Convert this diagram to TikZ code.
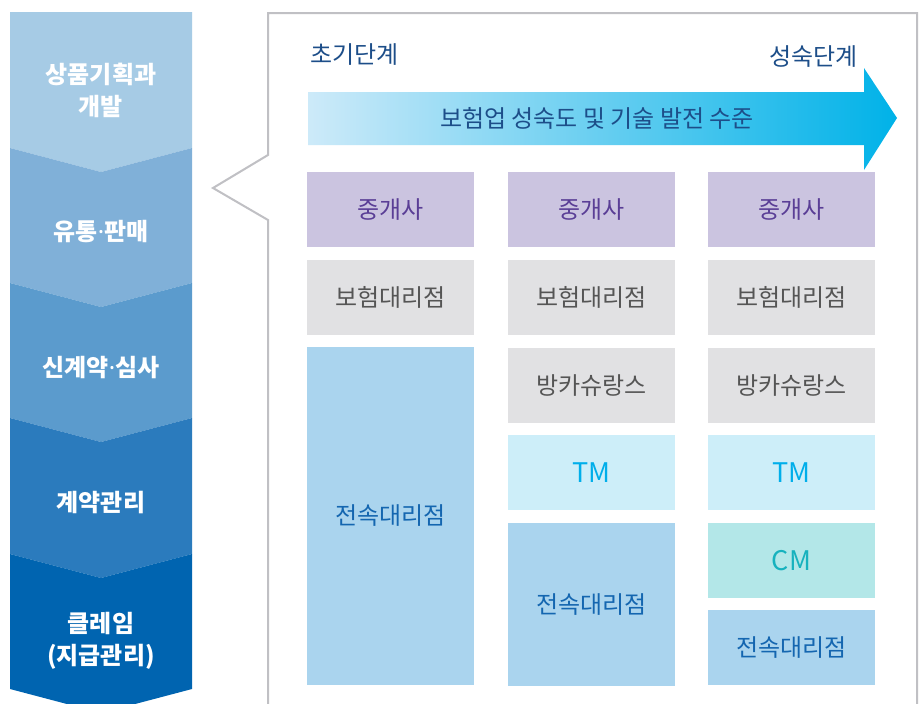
\documentclass[tikz,border=0pt]{standalone}
\usepackage{fontspec}
\setmainfont{Noto Sans CJK KR}
\newfontfamily\dotfont{Noto Sans}
\newcommand{\mdot}{{\dotfont\bfseries ·}}
\definecolor{segA}{HTML}{A6CBE5}
\definecolor{segB}{HTML}{80B0D8}
\definecolor{segC}{HTML}{5B9BCD}
\definecolor{segD}{HTML}{2B7BBD}
\definecolor{segE}{HTML}{0064B0}
\definecolor{frameC}{HTML}{C0C0C4}
\definecolor{navy}{HTML}{1D4E89}
\definecolor{arrL}{HTML}{CDEAF9}
\definecolor{arrR}{HTML}{00B2E8}
\definecolor{purF}{HTML}{CBC4E0}
\definecolor{purT}{HTML}{5A3E96}
\definecolor{gryF}{HTML}{E1E1E3}
\definecolor{gryT}{HTML}{555555}
\definecolor{bluF}{HTML}{AAD4EE}
\definecolor{bluT}{HTML}{1466B0}
\definecolor{tmF}{HTML}{CDEEF9}
\definecolor{tmT}{HTML}{00AEEA}
\definecolor{cmF}{HTML}{B3E7E8}
\definecolor{cmT}{HTML}{17B2BE}
\begin{document}
\begin{tikzpicture}[x=1pt,y=-1pt,
  every node/.style={font=\fontsize{24}{28}\selectfont},
  cell/.style={minimum width=167pt, inner sep=0pt, outer sep=0pt, anchor=north west},
  purcell/.style={cell, fill=purF, text=purT, minimum height=75pt},
  grycell/.style={cell, fill=gryF, text=gryT, minimum height=75pt},
  blucell/.style={cell, fill=bluF, text=bluT},
  tmcell/.style={cell, fill=tmF, text=tmT, minimum height=75pt, font=\fontsize{27}{30}\selectfont},
  cmcell/.style={cell, fill=cmF, text=cmT, minimum height=75pt, font=\fontsize{27}{30}\selectfont},
  seglabel/.style={text=white, align=center, font=\fontsize{24}{32}\selectfont\bfseries},
  stagelabel/.style={text=navy, font=\fontsize{24}{28}\selectfont}]
\useasboundingbox (0,0) rectangle (922,704);
\fill[white] (0,0) rectangle (922,704);
% chevron column
\fill[segA] (10,12) -- (192,12) -- (192,148) -- (101,172) -- (10,148) -- cycle;
\fill[segB] (10,148) -- (101,172) -- (192,148) -- (192,283) -- (101,307) -- (10,283) -- cycle;
\fill[segC] (10,283) -- (101,307) -- (192,283) -- (192,418) -- (101,442) -- (10,418) -- cycle;
\fill[segD] (10,418) -- (101,442) -- (192,418) -- (192,554) -- (101,578) -- (10,554) -- cycle;
\fill[segE] (10,554) -- (101,578) -- (192,554) -- (192,689) -- (101,713) -- (10,689) -- cycle;
\node[seglabel] (s1) at (101,90) {상품기획과\\개발};
\node[seglabel] (s2) at (101,232) {유통\mdot 판매};
\node[seglabel] (s3) at (101,368) {신계약\mdot 심사};
\node[seglabel] (s4) at (101,503) {계약관리};
\node[seglabel] (s5) at (101,641) {클레임\\(지급관리)};
% callout frame
\draw[frameC, line width=2pt, line join=miter] (268,720) -- (268,220) -- (213,188) -- (268,155) -- (268,13) -- (917,13) -- (917,720);
% stage labels
\node[stagelabel, anchor=west, inner sep=0pt] (early) at (310,55) {초기단계};
\node[stagelabel, anchor=east, inner sep=0pt] (mature) at (858,57) {성숙단계};
% gradient arrow
\shade[left color=arrL, right color=arrR] (308,92) -- (864,92) -- (864,68) -- (897,118) -- (864,170) -- (864,145) -- (308,145) -- cycle;
\node[text=navy] (arrtext) at (597,118) {보험업 성숙도 및 기술 발전 수준};
% column 1
\node[purcell] (a1) at (307,172) {중개사};
\node[grycell] (a2) at (307,260) {보험대리점};
\node[blucell, minimum height=338pt] (a3) at (307,347) {전속대리점};
% column 2
\node[purcell] (b1) at (508,172) {중개사};
\node[grycell] (b2) at (508,260) {보험대리점};
\node[grycell] (b3) at (508,348) {방카슈랑스};
\node[tmcell] (b4) at (508,435) {TM};
\node[blucell, minimum height=163pt] (b5) at (508,523) {전속대리점};
% column 3
\node[purcell] (c1) at (708,172) {중개사};
\node[grycell] (c2) at (708,260) {보험대리점};
\node[grycell] (c3) at (708,348) {방카슈랑스};
\node[tmcell] (c4) at (708,435) {TM};
\node[cmcell] (c5) at (708,523) {CM};
\node[blucell, minimum height=75pt] (c6) at (708,610) {전속대리점};
\end{tikzpicture}
\end{document}
